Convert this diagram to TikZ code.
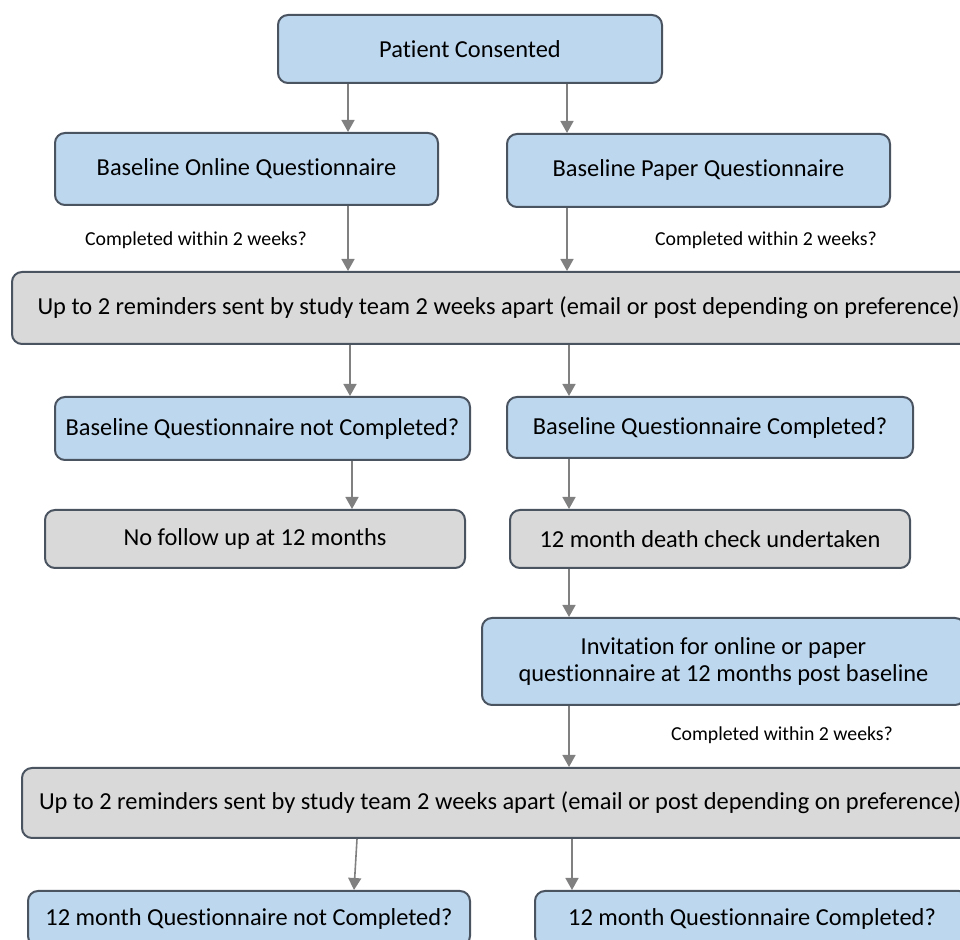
\documentclass[tikz,border=0pt]{standalone}
\usepackage{fontspec}
\setmainfont{Carlito}[Ligatures=CommonOff]
\usetikzlibrary{arrows.meta}
\definecolor{boxblue}{HTML}{BDD7EE}
\definecolor{boxgrey}{HTML}{D9D9D9}
\definecolor{boxline}{HTML}{4A5360}
\definecolor{arrgrey}{HTML}{808080}
\tikzset{
	box/.style={draw=boxline, line width=1pt, rounded corners=5pt, align=center, inner sep=0pt, font=\fontsize{12.2}{13.5}\selectfont},
	bluebox/.style={box, fill=boxblue},
	greybox/.style={box, fill=boxgrey},
	arr/.style={draw=arrgrey, line width=0.8pt, -{Triangle[length=6pt,width=6.5pt]}},
	note/.style={font=\fontsize{9.9}{11}\selectfont}
}

\begin{document}
\begin{tikzpicture}[x=0.5pt, y=-0.5pt]
		%%%%% START %%%%%
		\useasboundingbox (0, 0) rectangle (960, 940);
		\clip (0, 0) rectangle (960, 940);
		
		\node[bluebox, minimum width=192pt, minimum height=34pt] (pc) at (470, 49) {Patient Consented};
		\node[bluebox, minimum width=191.5pt, minimum height=36pt] (bo) at (246.5, 169) {Baseline Online Questionnaire};
		\node[bluebox, minimum width=191.5pt, minimum height=36.5pt] (bp) at (698.5, 170.5) {Baseline Paper Questionnaire};
		
		\node[greybox, minimum width=486.5pt, minimum height=36pt] (ra) at (498.5, 308) {Up to 2 reminders sent by study team 2 weeks apart (email or post depending on preference)};
		
		\node[bluebox, minimum width=207.5pt, minimum height=31.5pt] (bn) at (262.5, 428.5) {Baseline Questionnaire not Completed?};
		\node[bluebox, minimum width=203pt, minimum height=30.5pt] (bc) at (710, 427.5) {Baseline Questionnaire Completed?};
		
		\node[greybox, minimum width=210pt, minimum height=29pt] (nf) at (255, 539) {No follow up at 12 months};
		\node[greybox, minimum width=200pt, minimum height=29pt] (dc) at (710, 539) {12 month death check undertaken};
		
		\node[bluebox, minimum width=241.5pt, minimum height=43.5pt] (inv) at (723.5, 661.5) {Invitation for online or paper\\questionnaire at 12 months post baseline};
		
		\node[greybox, minimum width=478pt, minimum height=35pt] (rb) at (500, 803) {Up to 2 reminders sent by study team 2 weeks apart (email or post depending on preference)};
		
		\node[bluebox, minimum width=221pt, minimum height=27.5pt] (qn) at (249, 918.5) {12 month Questionnaire not Completed?};
		\node[bluebox, minimum width=217pt, minimum height=27.5pt] (qc) at (752, 918.5) {12 month Questionnaire Completed?};
		
		\node[note] (n1) at (196, 240) {Completed within 2 weeks?};
		\node[note] (n2) at (766, 240) {Completed within 2 weeks?};
		\node[note] (n3) at (782, 735) {Completed within 2 weeks?};
		
		% arrow columns
		\coordinate (xa) at (348, 0);
		\coordinate (xb) at (567, 0);
		\coordinate (xc) at (350, 0);
		\coordinate (xd) at (569, 0);
		\coordinate (xe) at (352, 0);
		\coordinate (xf) at (357, 0);
		\coordinate (xg) at (354, 0);
		\coordinate (xh) at (572, 0);
		
		\draw[arr] (pc.south -| xa) -- (bo.north -| xa);
		\draw[arr] (pc.south -| xb) -- (bp.north -| xb);
		\draw[arr] (bo.south -| xa) -- (ra.north -| xa);
		\draw[arr] (bp.south -| xb) -- (ra.north -| xb);
		\draw[arr] (ra.south -| xc) -- (bn.north -| xc);
		\draw[arr] (ra.south -| xd) -- (bc.north -| xd);
		\draw[arr] (bn.south -| xe) -- (nf.north -| xe);
		\draw[arr] (bc.south -| xd) -- (dc.north -| xd);
		\draw[arr] (dc.south -| xd) -- (inv.north -| xd);
		\draw[arr] (inv.south -| xd) -- (rb.north -| xd);
		\draw[arr] (rb.south -| xf) -- (qn.north -| xg);
		\draw[arr] (rb.south -| xh) -- (qc.north -| xh);
		%%%%% END %%%%%
\end{tikzpicture}
\end{document}
